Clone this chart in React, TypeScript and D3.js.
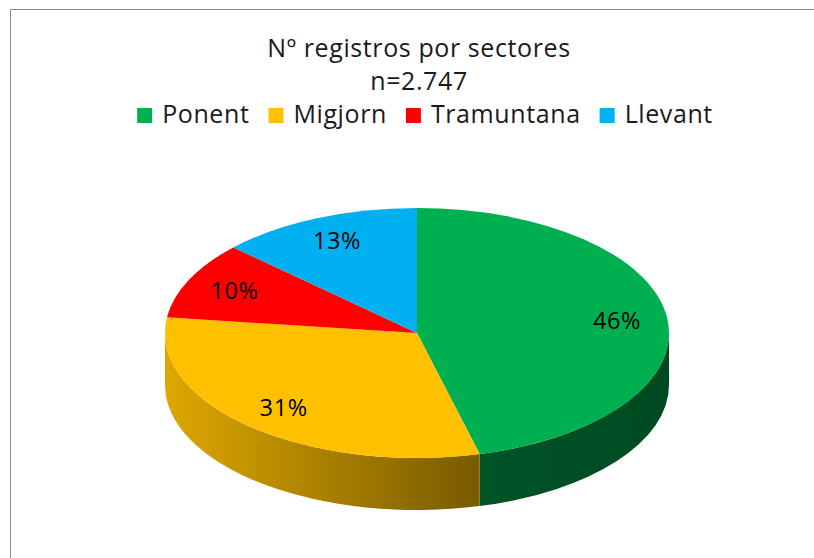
import React from "react";
import * as d3 from "d3";

const categories = ["Ponent", "Migjorn", "Tramuntana", "Llevant"];
const values = [46, 31, 10, 13];
const colors = ["#00B050", "#FFC000", "#FF0000", "#00B0F0"];
const titleLines = ["Nº registros por sectores", "n=2.747"];

const W = 814;
const H = 558;
const FONT = "'Open Sans', 'Noto Sans', sans-serif";
const LS = 0.6;

const cx = 417;
const cy = 333;
const rx = 252;
const ry = 125;
const depth = 52;

function measure(text: string, size: number) {
  const c = document.createElement("canvas").getContext("2d");
  if (!c) return text.length * size * 0.55;
  c.font = `${size}px ${FONT}`;
  return c.measureText(text).width + LS * text.length;
}

export default function App() {
  const pie = d3.pie<number>().sort(null).value((d) => d);
  const arcs = pie(values);
  const arcGen = d3.arc<d3.PieArcDatum<number>>().innerRadius(0).outerRadius(rx);
  const px = (a: number) => cx + rx * Math.sin(a);
  const py = (a: number) => cy - ry * Math.cos(a);

  const shade = d3
    .scaleLinear<number>()
    .domain([cx - rx, cx + 0.25 * rx, cx + rx])
    .range([0.87, 0.47, 0.42]);
  const stopsX = d3.range(0, 11).map((i) => cx - rx + (2 * rx * i) / 10);

  const sides = arcs
    .map((a, i) => {
      const s = Math.max(a.startAngle, Math.PI / 2);
      const e = Math.min(a.endAngle, (3 * Math.PI) / 2);
      if (e <= s) return null;
      const large = e - s > Math.PI ? 1 : 0;
      const d = `M${px(s)},${py(s)} A${rx},${ry} 0 ${large} 1 ${px(e)},${py(e)} L${px(e)},${py(e) + depth} A${rx},${ry} 0 ${large} 0 ${px(s)},${py(s) + depth} Z`;
      return { d, i };
    })
    .filter((x) => x !== null) as { d: string; i: number }[];

  const legendSize = 25;
  const sq = 15;
  const gapSq = 10;
  const gapItem = 19;
  const widths = categories.map((c) => measure(c, legendSize));
  const total = d3.sum(widths) + categories.length * (sq + gapSq) + (categories.length - 1) * gapItem;
  let lx = 425 - total / 2;
  const legendItems = categories.map((c, i) => {
    const item = { x: lx, c, i };
    lx += sq + gapSq + widths[i] + gapItem;
    return item;
  });

  return (
    <svg
      width={W}
      height={H}
      style={{ position: "absolute", left: 0, top: 0, background: "#fff" }}
      fontFamily={FONT}
    >
      <defs>
        {colors.map((col, i) => (
          <linearGradient key={i} id={`side${i}`} gradientUnits="userSpaceOnUse" x1={cx - rx} x2={cx + rx} y1={0} y2={0}>
            {stopsX.map((x, j) => {
              const c = d3.rgb(col);
              const k = shade(x);
              const cc = d3.rgb(c.r * k, c.g * k, c.b * k);
              return <stop key={j} offset={j / 10} stopColor={cc.formatHex()} />;
            })}
          </linearGradient>
        ))}
      </defs>
      <rect x={0} y={0} width={W} height={H} fill="#fff" />
      <path d={`M10.5,${H} V9.5 H${W}`} fill="none" stroke="#8c8c8c" strokeWidth={1} />

      {titleLines.map((t, i) => (
        <text key={i} x={419} y={57 + i * 33} textAnchor="middle" fontSize={25} letterSpacing={LS} fill="#1a1a1a">
          {t}
        </text>
      ))}

      {legendItems.map((it) => (
        <g key={it.c}>
          <rect x={it.x} y={108} width={sq} height={sq} fill={colors[it.i]} />
          <text x={it.x + sq + gapSq} y={123} fontSize={legendSize} letterSpacing={LS} fill="#1a1a1a">
            {it.c}
          </text>
        </g>
      ))}

      {sides.map((s) => (
        <path key={`s${s.i}`} d={s.d} fill={`url(#side${s.i})`} />
      ))}

      <g transform={`translate(${cx},${cy}) scale(1,${ry / rx})`}>
        {arcs.map((a, i) => (
          <path key={i} d={arcGen(a) || ""} fill={colors[i]} />
        ))}
      </g>

      {arcs.map((a, i) => {
        const m = (a.startAngle + a.endAngle) / 2;
        const x = cx + 0.8 * rx * Math.sin(m);
        const y = cy - 0.8 * ry * Math.cos(m);
        return (
          <text key={`l${i}`} x={x} y={y} dy="0.35em" textAnchor="middle" fontSize={23.5} letterSpacing={LS} fill="#000">
            {`${values[i]}%`}
          </text>
        );
      })}
    </svg>
  );
}
